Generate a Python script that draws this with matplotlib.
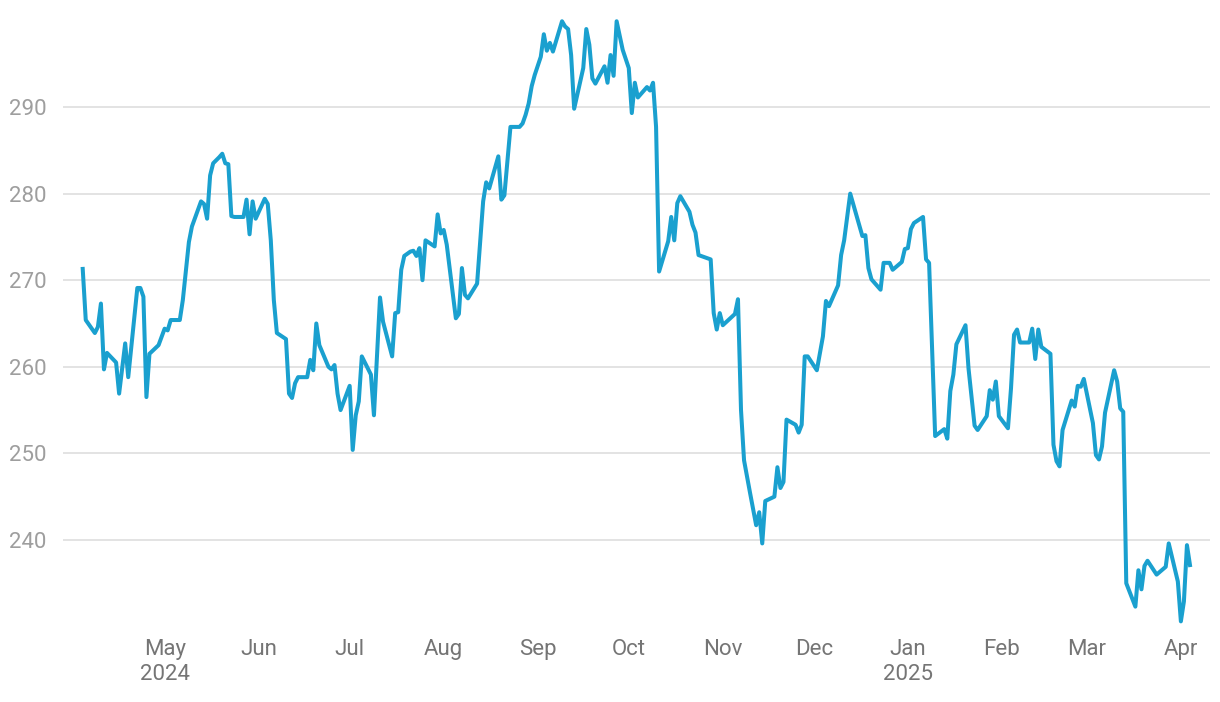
import pandas as pd
import matplotlib
matplotlib.use('Agg')
from matplotlib import pyplot as plt

plt.rcParams['font.family'] = ['Roboto', 'DejaVu Sans']

dates = [
    '2024-04-04', '2024-04-05', '2024-04-08', '2024-04-09', '2024-04-10', '2024-04-11', '2024-04-12',
    '2024-04-15', '2024-04-16', '2024-04-18', '2024-04-19', '2024-04-22', '2024-04-23', '2024-04-24',
    '2024-04-25', '2024-04-26', '2024-04-29', '2024-05-01', '2024-05-02', '2024-05-03', '2024-05-06',
    '2024-05-07', '2024-05-09', '2024-05-10', '2024-05-13', '2024-05-14', '2024-05-15', '2024-05-16',
    '2024-05-17', '2024-05-19', '2024-05-20', '2024-05-21', '2024-05-22', '2024-05-23', '2024-05-24',
    '2024-05-27', '2024-05-28', '2024-05-29', '2024-05-30', '2024-05-31',
    '2024-06-03', '2024-06-04', '2024-06-05', '2024-06-06', '2024-06-07', '2024-06-10', '2024-06-11',
    '2024-06-12', '2024-06-13', '2024-06-14', '2024-06-17', '2024-06-18', '2024-06-19', '2024-06-20',
    '2024-06-21', '2024-06-24', '2024-06-25', '2024-06-26', '2024-06-27', '2024-06-28',
    '2024-07-01', '2024-07-02', '2024-07-03', '2024-07-04', '2024-07-05', '2024-07-08', '2024-07-09',
    '2024-07-11', '2024-07-12', '2024-07-15', '2024-07-16', '2024-07-17', '2024-07-18', '2024-07-19',
    '2024-07-21', '2024-07-22', '2024-07-23', '2024-07-24', '2024-07-25', '2024-07-26', '2024-07-29',
    '2024-07-30', '2024-07-31',
    '2024-08-01', '2024-08-02', '2024-08-05', '2024-08-06', '2024-08-07', '2024-08-08', '2024-08-09',
    '2024-08-12', '2024-08-14', '2024-08-15', '2024-08-16', '2024-08-19', '2024-08-20', '2024-08-21',
    '2024-08-23', '2024-08-26', '2024-08-27', '2024-08-28', '2024-08-29', '2024-08-30', '2024-08-31',
    '2024-09-02', '2024-09-03', '2024-09-04', '2024-09-05', '2024-09-06', '2024-09-09', '2024-09-10',
    '2024-09-11', '2024-09-12', '2024-09-13', '2024-09-16', '2024-09-17', '2024-09-18', '2024-09-19',
    '2024-09-20', '2024-09-23', '2024-09-24', '2024-09-25', '2024-09-26', '2024-09-27', '2024-09-29',
    '2024-10-01', '2024-10-02', '2024-10-03', '2024-10-04', '2024-10-07', '2024-10-08', '2024-10-09',
    '2024-10-10', '2024-10-11', '2024-10-14', '2024-10-15', '2024-10-16', '2024-10-17', '2024-10-18',
    '2024-10-21', '2024-10-22', '2024-10-23', '2024-10-24', '2024-10-28', '2024-10-29', '2024-10-30',
    '2024-10-31',
    '2024-11-01', '2024-11-05', '2024-11-06', '2024-11-07', '2024-11-08', '2024-11-10', '2024-11-12',
    '2024-11-13', '2024-11-14', '2024-11-15', '2024-11-18', '2024-11-19', '2024-11-20', '2024-11-21',
    '2024-11-22', '2024-11-25', '2024-11-26', '2024-11-27', '2024-11-28', '2024-11-29',
    '2024-12-02', '2024-12-04', '2024-12-05', '2024-12-06', '2024-12-09', '2024-12-10', '2024-12-11',
    '2024-12-13', '2024-12-17', '2024-12-18', '2024-12-19', '2024-12-20', '2024-12-23', '2024-12-24',
    '2024-12-26', '2024-12-27', '2024-12-30', '2024-12-31',
    '2025-01-01', '2025-01-02', '2025-01-03', '2025-01-06', '2025-01-07', '2025-01-08', '2025-01-10',
    '2025-01-13', '2025-01-14', '2025-01-15', '2025-01-16', '2025-01-17', '2025-01-20', '2025-01-21',
    '2025-01-23', '2025-01-24', '2025-01-27', '2025-01-28', '2025-01-29', '2025-01-30', '2025-01-31',
    '2025-02-03', '2025-02-04', '2025-02-05', '2025-02-06', '2025-02-07', '2025-02-10', '2025-02-11',
    '2025-02-12', '2025-02-13', '2025-02-14', '2025-02-17', '2025-02-18', '2025-02-19', '2025-02-20',
    '2025-02-21', '2025-02-24', '2025-02-25', '2025-02-26', '2025-02-27', '2025-02-28',
    '2025-03-03', '2025-03-04', '2025-03-05', '2025-03-06', '2025-03-07', '2025-03-10', '2025-03-11',
    '2025-03-12', '2025-03-13', '2025-03-14', '2025-03-17', '2025-03-18', '2025-03-19', '2025-03-20',
    '2025-03-21', '2025-03-24', '2025-03-27', '2025-03-28', '2025-03-31',
    '2025-04-01', '2025-04-02', '2025-04-03', '2025-04-04',
]

prices = [
    271.3, 265.4, 263.9, 264.6, 267.3, 259.7, 261.6,
    260.5, 256.9, 262.7, 258.8, 269.1, 269.1, 268.1,
    256.5, 261.5, 262.5, 264.4, 264.2, 265.4, 265.4,
    267.7, 274.4, 276.2, 279.1, 278.8, 277.1, 282.1,
    283.5, 284.2, 284.6, 283.5, 283.4, 277.4, 277.3,
    277.3, 279.3, 275.3, 279.1, 277.1,
    279.4, 278.8, 274.6, 267.7, 263.9, 263.2, 256.9,
    256.4, 258.1, 258.8, 258.8, 260.8, 259.6, 265.0,
    262.5, 260.0, 259.7, 260.2, 256.9, 255.0,
    257.8, 250.4, 254.4, 256.0, 261.2, 259.1, 254.4,
    268.0, 265.2, 261.2, 266.2, 266.3, 271.2, 272.8,
    273.3, 273.4, 272.8, 273.7, 270.0, 274.6, 273.9,
    277.6, 275.4,
    275.8, 274.1, 265.6, 266.1, 271.4, 268.3, 267.9,
    269.6, 279.1, 281.3, 280.6, 284.3, 279.3, 279.8,
    287.7, 287.7, 288.1, 289.1, 290.4, 292.4, 293.7,
    295.8, 298.4, 296.5, 297.4, 296.4, 299.9, 299.3,
    299.0, 296.0, 289.8, 294.5, 299.0, 297.2, 293.3,
    292.7, 294.7, 292.8, 296.0, 293.6, 299.9, 296.6,
    294.5, 289.3, 292.8, 291.1, 292.3, 291.9, 292.8,
    287.7, 271.0, 274.5, 277.3, 274.6, 278.9, 279.7,
    277.9, 276.4, 275.5, 272.9, 272.4, 266.2, 264.3,
    266.2,
    264.8, 266.1, 267.8, 255.0, 249.2, 245.4, 241.7,
    243.2, 239.6, 244.5, 245.0, 248.4, 246.0, 246.7,
    253.9, 253.3, 252.4, 253.3, 261.2, 261.2,
    259.6, 263.5, 267.6, 267.0, 269.4, 272.9, 274.6,
    280.0, 275.1, 275.2, 271.4, 270.1, 268.9, 272.0,
    272.0, 271.2, 272.1, 273.6,
    273.7, 275.9, 276.6, 277.3, 272.4, 272.0, 252.0,
    252.8, 251.7, 257.2, 259.1, 262.6, 264.8, 259.8,
    253.2, 252.7, 254.3, 257.3, 256.2, 258.3, 254.3,
    252.9, 257.5, 263.7, 264.3, 262.8, 262.8, 264.4,
    260.9, 264.3, 262.3, 261.5, 251.0, 249.1, 248.5,
    252.7, 256.1, 255.4, 257.8, 257.7, 258.6,
    253.5, 249.8, 249.3, 250.8, 254.7, 259.6, 258.3,
    255.2, 254.8, 235.0, 232.3, 236.5, 234.3, 237.0,
    237.6, 236.0, 236.9, 239.6, 235.2,
    230.6, 232.9, 239.4, 237.1,
]

y_ticks = [240, 250, 260, 270, 280, 290]
month_ticks = ['2024-05-01', '2024-06-01', '2024-07-01', '2024-08-01', '2024-09-01', '2024-10-01',
               '2024-11-01', '2024-12-01', '2025-01-01', '2025-02-01', '2025-03-01', '2025-04-01']
month_labels = ['May\n2024', 'Jun', 'Jul', 'Aug', 'Sep', 'Oct', 'Nov', 'Dec', 'Jan\n2025', 'Feb', 'Mar', 'Apr']

x = pd.to_datetime(dates)

fig = plt.figure(figsize=(12.2, 7.02), dpi=100)
ax = fig.add_axes([63 / 1220, 1 - 625 / 702, (1210 - 63) / 1220, (625 - 12) / 702])

ax.plot(x, prices, color='#1aa0cf', linewidth=2.9, solid_joinstyle='round', zorder=3)

ax.set_ylim(230.18, 300.97)
start = pd.Timestamp('2024-05-01')
ax.set_xlim(start - pd.Timedelta(days=33.5), start + pd.Timedelta(days=344.6))

ax.set_yticks(y_ticks)
ax.set_yticklabels([str(v) for v in y_ticks])
ax.set_xticks(pd.to_datetime(month_ticks))
ax.set_xticklabels(month_labels, linespacing=1.25)

ax.grid(axis='y', color='#e3e3e3', linewidth=1.4)
ax.grid(axis='x', visible=False)
for side in ['top', 'right', 'left', 'bottom']:
    ax.spines[side].set_visible(False)

ax.tick_params(axis='y', length=0, pad=12, labelsize=16, labelcolor='#9e9e9e')
ax.tick_params(axis='x', length=0, pad=10, labelsize=16, labelcolor='#757575')

fig.savefig('out.png', dpi=100)
